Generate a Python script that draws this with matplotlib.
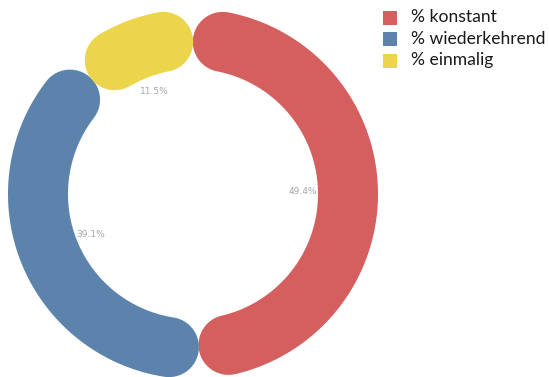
import numpy as np
import matplotlib
matplotlib.use("Agg")
import matplotlib.pyplot as plt
from matplotlib.patches import Polygon, Rectangle

categories = ["% konstant", "% wiederkehrend", "% einmalig"]
shares = [49.4, 39.1, 11.5]
colors = ["#d45f5e", "#5b83ac", "#ecd54a"]

W, H = 549, 377
fig = plt.figure(figsize=(W / 100, H / 100), dpi=100)
ax = fig.add_axes([0, 0, 1, 1])
ax.set_xlim(0, W)
ax.set_ylim(H, 0)
ax.set_aspect("equal")
ax.axis("off")

cx, cy = 193, 194       # ring centre (pixels)
r_mid, half = 155, 30   # centre-line radius, half of ring thickness
r_lab = 110


def point(theta, r):
    # theta in degrees, clockwise from 12 o'clock
    t = np.radians(theta)
    return cx + r * np.sin(t), cy - r * np.cos(t)


def cap(theta, sign):
    # half circle closing the band at angle theta
    ang = np.radians(theta)
    rad = np.array([np.sin(ang), -np.cos(ang)])
    tan = np.array([np.cos(ang), np.sin(ang)])
    mx, my = point(theta, r_mid)
    out = []
    for p in np.radians(np.linspace(0, 180, 40)):
        v = sign * (rad * np.cos(p) + tan * np.sin(p))
        out.append((mx + half * v[0], my + half * v[1]))
    return out


def rounded_arc(a0, a1):
    # shorten the arc so the round caps stay inside the segment
    c = np.degrees(half / r_mid)
    s, e = a0 + c, a1 - c
    ts = np.linspace(s, e, 120)
    pts = [point(t, r_mid + half) for t in ts]
    pts += cap(e, 1)
    pts += [point(t, r_mid - half) for t in ts[::-1]]
    pts += cap(s, -1)
    return pts


start = 0.0
for name, val, col in zip(categories, shares, colors):
    span = val / 100 * 360
    ax.add_patch(Polygon(rounded_arc(start, start + span), closed=True,
                         facecolor=col, edgecolor="none"))
    lx, ly = point(start + span / 2, r_lab)
    ax.text(lx, ly, f"{val}%", ha="center", va="center", fontsize=6.5,
            color="#a6a6a6")
    start += span

# legend
for i, (name, col) in enumerate(zip(categories, colors)):
    y = 17.5 + i * 21.5
    ax.add_patch(Rectangle((383, y - 7), 14, 14, facecolor=col, edgecolor="none"))
    ax.text(411, y, name, ha="left", va="center", fontsize=12.6,
            family=["Lato", "DejaVu Sans"], color="#1a1a1a")

fig.savefig("out.png", dpi=100)
